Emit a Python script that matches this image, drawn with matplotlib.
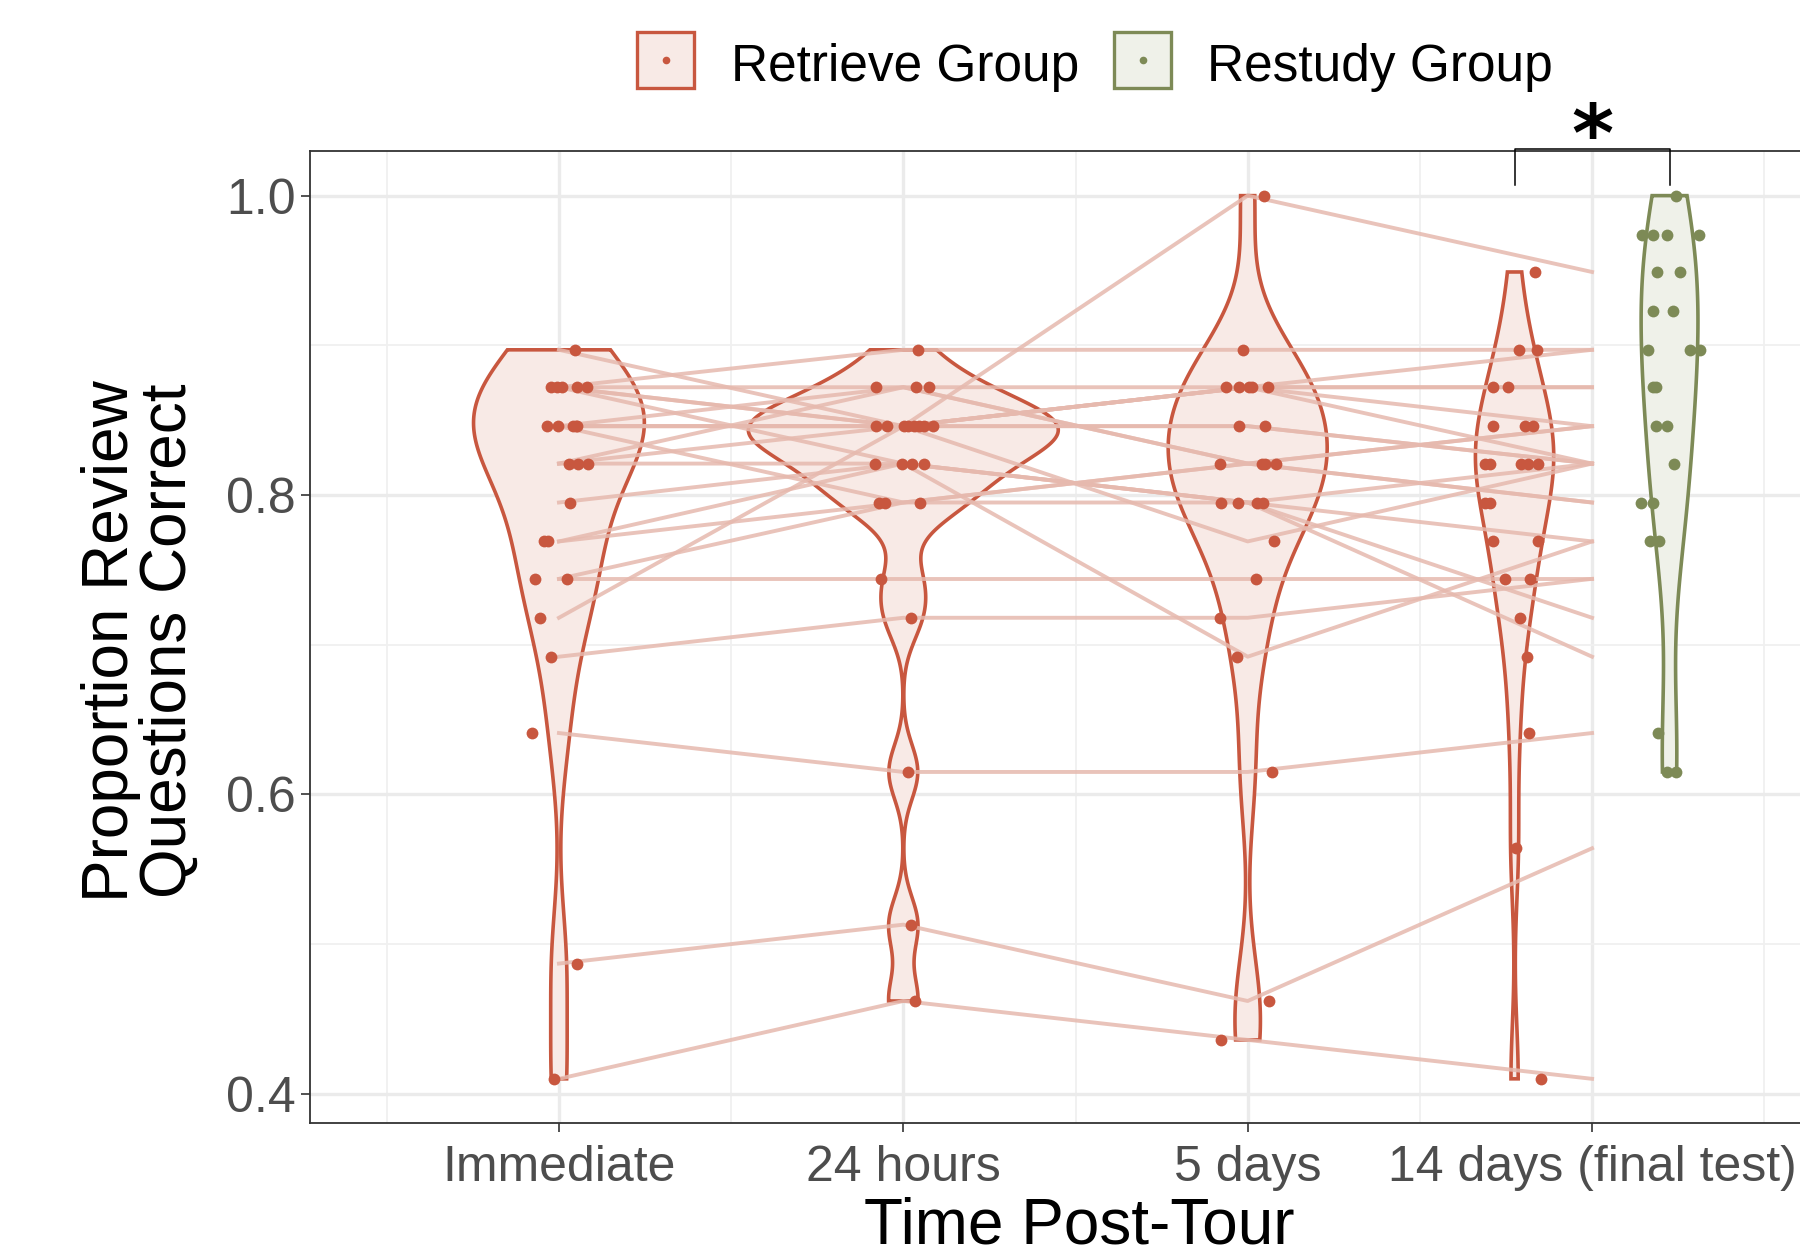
import numpy as np
import matplotlib
matplotlib.use("Agg")
import matplotlib.pyplot as plt
from matplotlib.patches import Rectangle
from matplotlib.lines import Line2D

plt.rcParams["font.family"] = ["Liberation Sans", "DejaVu Sans"]

time_labels = ["Immediate", "24 hours", "5 days", "14 days (final test)"]
group_labels = ["Retrieve Group", "Restudy Group"]

# retrieve group: one entry per participant, same participant order in every list
retrieve_immediate = [0.410, 0.487, 0.641, 0.718, 0.692, 0.744, 0.744, 0.769,
                      0.769, 0.795, 0.897, 0.872, 0.872, 0.872, 0.872, 0.872,
                      0.846, 0.846, 0.846, 0.846, 0.846, 0.821, 0.821, 0.821]
retrieve_24h = [0.462, 0.513, 0.615, 0.846, 0.718, 0.744, 0.795, 0.795,
                0.821, 0.821, 0.846, 0.897, 0.846, 0.846, 0.872, 0.821,
                0.846, 0.872, 0.846, 0.795, 0.846, 0.846, 0.872, 0.821]
retrieve_5d = [0.436, 0.462, 0.615, 1.000, 0.718, 0.744, 0.795, 0.821,
               0.795, 0.692, 0.872, 0.897, 0.872, 0.846, 0.821, 0.795,
               0.872, 0.872, 0.769, 0.821, 0.846, 0.872, 0.821, 0.795]
retrieve_14d = [0.410, 0.564, 0.641, 0.949, 0.744, 0.744, 0.769, 0.795,
                0.718, 0.769, 0.897, 0.897, 0.872, 0.821, 0.846, 0.821,
                0.821, 0.872, 0.821, 0.846, 0.821, 0.846, 0.795, 0.692]

# restudy group was only tested at 14 days
restudy_14d = [1.000, 0.974, 0.974, 0.974, 0.974, 0.949, 0.949, 0.923,
               0.923, 0.897, 0.897, 0.897, 0.872, 0.872, 0.846, 0.846,
               0.821, 0.795, 0.795, 0.769, 0.769, 0.641, 0.615, 0.615]

# horizontal jitter of the dots (x units), dots ordered from highest to lowest score
jitter_immediate = [0.046, -0.024, -0.007, 0.008, 0.051, 0.082, -0.036, -0.002,
                    0.042, 0.049, 0.053, 0.030, 0.056, 0.085, 0.032, -0.044,
                    -0.031, -0.070, 0.024, -0.055, -0.023, -0.079, 0.053, -0.013]
jitter_24h = [0.043, -0.078, 0.037, 0.074, -0.078, -0.047, 0.001, 0.015,
              0.030, 0.045, 0.059, 0.085, -0.081, -0.004, 0.025, 0.059,
              -0.072, -0.052, 0.049, -0.064, 0.023, 0.013, 0.023, 0.033]
jitter_5d = [0.047, -0.015, -0.063, -0.024, 0.003, 0.013, 0.059, -0.024,
             0.051, -0.080, 0.042, 0.049, 0.082, -0.077, -0.029, 0.027,
             0.044, 0.076, 0.025, -0.079, -0.031, 0.070, 0.063, -0.077]
jitter_14d = [0.060, 0.014, 0.064, -0.062, -0.018, -0.064, 0.030, 0.054,
              -0.086, -0.072, 0.020, 0.040, 0.069, -0.086, -0.072, -0.062,
              0.069, -0.028, 0.045, 0.015, 0.035, 0.042, 0.004, 0.076]
jitter_restudy = [0.018, -0.079, -0.049, -0.008, 0.086, -0.036, 0.029, -0.049,
                  0.009, -0.062, 0.060, 0.089, -0.047, -0.039, -0.040, -0.008,
                  0.014, -0.082, -0.049, -0.057, -0.030, -0.034, -0.008, 0.018]

retrieve_col = "#C8573F"
retrieve_fill = "#F8EAE6"
restudy_col = "#7D8A56"
restudy_fill = "#EFF1E9"
line_col = "#E6B9AE"


def ydensity(vals, n=512):
    # gaussian kde, bw.nrd0, trimmed to the data range (like geom_violin)
    v = np.asarray(vals, float)
    q75, q25 = np.percentile(v, [75, 25])
    bw = 0.9 * min(v.std(ddof=1), (q75 - q25) / 1.34) * len(v) ** -0.2
    y = np.linspace(v.min(), v.max(), n)
    z = (y[:, None] - v[None, :]) / bw
    d = np.exp(-0.5 * z ** 2).sum(axis=1) / (len(v) * bw * np.sqrt(2 * np.pi))
    return y, d


fig = plt.figure(figsize=(18, 12.56), dpi=100)
ax = fig.add_axes([0.1722, 0.1059, 0.8506, 0.7735])

retrieve_sets = [retrieve_immediate, retrieve_24h, retrieve_5d, retrieve_14d]
jitters = [jitter_immediate, jitter_24h, jitter_5d, jitter_14d]
centers = [1, 2, 3, 4 - 0.225]
widths = [0.45, 0.45, 0.45, 0.225]

dens = [ydensity(v) for v in retrieve_sets] + [ydensity(restudy_14d)]
dmax = max(d.max() for _, d in dens)

# violins (scale = "area")
specs = list(zip(centers, widths, [retrieve_col] * 4, [retrieve_fill] * 4))
specs.append((4 + 0.225, 0.225, restudy_col, restudy_fill))
for (y, d), (cx, w, ec, fc) in zip(dens, specs):
    hw = w * d / dmax
    ax.fill(np.r_[cx - hw, (cx + hw)[::-1]], np.r_[y, y[::-1]],
            facecolor=fc, edgecolor=ec, lw=2.6, zorder=2)

# participant lines
for vals in zip(*retrieve_sets):
    ax.plot([1, 2, 3, 4], vals, color=line_col, lw=2.8, alpha=0.85, zorder=3)

# dots
for vals, jit, cx in zip(retrieve_sets, jitters, centers):
    v = np.asarray(vals)
    order = np.argsort(-v, kind="stable")
    ax.plot(cx + np.asarray(jit), v[order], "o", ms=8.5, color=retrieve_col,
            mec="none", zorder=4)
ax.plot(4 + 0.225 + np.asarray(jitter_restudy), restudy_14d, "o", ms=8.5,
        color=restudy_col, mec="none", zorder=4)

# significance bracket
ax.plot([3.775, 3.775, 4.225, 4.225], [1.007, 1.031, 1.031, 1.007],
        color="black", lw=1.1, clip_on=False, zorder=5)
ax.text(4.0, 1.0233, "*", ha="center", va="baseline", fontsize=58,
        fontweight="bold", family=["DejaVu Sans"], clip_on=False)

ax.set_xlim(0.277, 4.723)
ax.set_ylim(0.3805, 1.0295)
ax.set_xticks([1, 2, 3, 4])
ax.set_xticklabels(time_labels)
ax.set_xticks([0.5, 1.5, 2.5, 3.5, 4.5], minor=True)
ax.set_yticks([0.4, 0.6, 0.8, 1.0])
ax.set_yticklabels(["0.4", "0.6", "0.8", "1.0"])
ax.set_yticks([0.5, 0.7, 0.9], minor=True)
ax.grid(which="major", color="#EBEBEB", lw=2.4)
ax.grid(which="minor", color="#F0F0F0", lw=1.3)
ax.set_axisbelow(True)
ax.tick_params(which="major", labelsize=36, labelcolor="#4D4D4D",
               color="#333333", length=6.5, width=1.2)
ax.tick_params(axis="x", pad=9)
ax.tick_params(axis="y", pad=4)
ax.tick_params(which="minor", length=0)
for s in ax.spines.values():
    s.set_color("#333333")
    s.set_linewidth(1.3)

fig.text(1079 / 1800, 1 - 1227 / 1256, "Time Post-Tour", ha="center",
         va="center", fontsize=46)
fig.text(140 / 1800, 1 - 641 / 1256, "Proportion Review\nQuestions Correct",
         ha="center", va="center", rotation=90, fontsize=46,
         multialignment="center", linespacing=0.95)

# legend
W, H = 1800, 1256
for (x0, tx), label, ec, fc in zip([(637, 731), (1114, 1207)], group_labels,
                                   [retrieve_col, restudy_col],
                                   [retrieve_fill, restudy_fill]):
    fig.add_artist(Rectangle((x0 / W, 1 - 88 / H), 57 / W, 56 / H,
                             transform=fig.transFigure, facecolor=fc,
                             edgecolor=ec, lw=2.4))
    fig.add_artist(Line2D([(x0 + 28.5) / W], [1 - 60 / H], marker="o", ms=5.5,
                          color=ec, mec="none", transform=fig.transFigure))
    fig.text(tx / W, 1 - 67 / H, label, ha="left", va="center", fontsize=37)

fig.savefig("out.png", dpi=100)
